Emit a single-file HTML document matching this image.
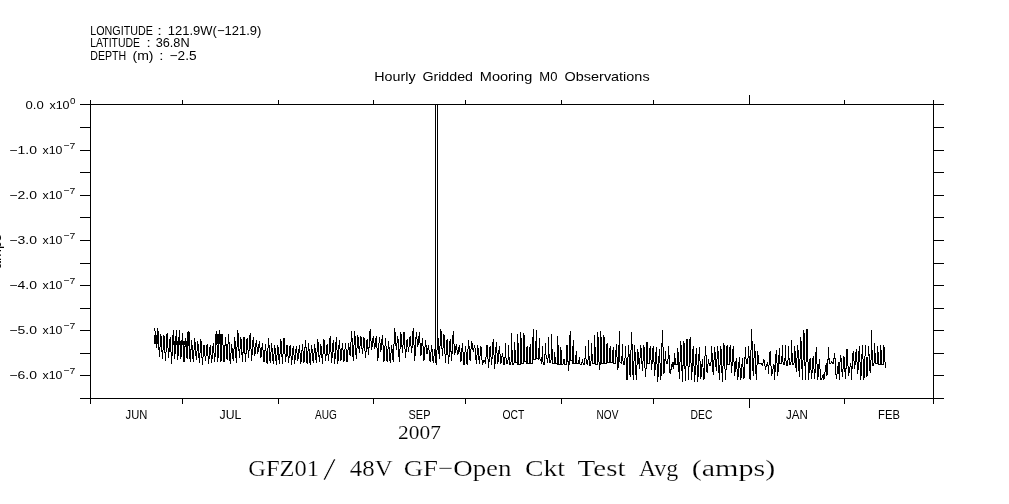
<!DOCTYPE html>
<html lang="en">
<head>
<meta charset="utf-8">
<title>GFZ01/ 48V GF-Open Ckt Test Avg (amps)</title>
<style>
html,body{margin:0;padding:0;background:#fff;}
body{width:1009px;height:504px;overflow:hidden;}
svg{display:block;}
.s{font-family:"Liberation Sans",sans-serif;fill:#000;}
.tx{filter:grayscale(1);}
.r{font-family:"Liberation Serif",serif;fill:#000;stroke:#fff;stroke-width:0.2px;}
</style>
</head>
<body>
<svg width="1009" height="504" viewBox="0 0 1009 504">
<rect width="1009" height="504" fill="#fff"/>
<g shape-rendering="crispEdges" fill="#000">
<path d="M90 104h844v1h-844zM90 398h844v1h-844zM90 104h1v295h-1zM933 104h1v295h-1zM80 104h10v1h-10zM933 104h11v1h-11zM80 127h10v1h-10zM933 127h11v1h-11zM80 150h10v1h-10zM933 150h11v1h-11zM80 172h10v1h-10zM933 172h11v1h-11zM80 195h10v1h-10zM933 195h11v1h-11zM80 217h10v1h-10zM933 217h11v1h-11zM80 240h10v1h-10zM933 240h11v1h-11zM80 263h10v1h-10zM933 263h11v1h-11zM80 285h10v1h-10zM933 285h11v1h-11zM80 308h10v1h-10zM933 308h11v1h-11zM80 330h10v1h-10zM933 330h11v1h-11zM80 353h10v1h-10zM933 353h11v1h-11zM80 375h10v1h-10zM933 375h11v1h-11zM80 398h10v1h-10zM933 398h11v1h-11zM90 398h1v6h-1zM90 100h1v5h-1zM182 398h1v6h-1zM182 100h1v5h-1zM278 398h1v6h-1zM278 100h1v5h-1zM373 398h1v6h-1zM373 100h1v5h-1zM465 398h1v6h-1zM465 100h1v5h-1zM561 398h1v6h-1zM561 100h1v5h-1zM653 398h1v6h-1zM653 100h1v5h-1zM749 398h1v10h-1zM749 95h1v10h-1zM844 398h1v6h-1zM844 100h1v5h-1zM933 398h1v6h-1zM933 100h1v5h-1z"/>
<path d="M154 335h4v9h-4zM173 341h17v4h-17zM187 332h3v14h-3zM215 334h7v10h-7zM435 104h1v259h-1zM437 104h1v246h-1z"/>
<path d="M154.76 328.0 L156.30 348.0 L157.84 328.0 L159.38 356.9 L160.92 334.0 L162.45 358.7 L163.99 335.5 L165.53 361.1 L167.07 333.1 L168.61 357.5 L170.15 337.0 L171.68 363.7 L173.22 330.1 L174.76 359.3 L176.30 330.1 L177.84 359.7 L179.38 330.1 L180.91 358.7 L182.45 333.1 L183.99 362.3 L185.53 338.5 L187.07 358.7 L188.60 331.1 L190.14 361.7 L191.68 340.3 L193.22 362.3 L194.76 337.9 L196.30 359.9 L197.83 340.9 L199.37 362.9 L200.91 339.1 L202.45 364.7 L203.99 345.0 L205.53 361.1 L207.06 344.2 L208.60 363.7 L210.14 345.0 L211.68 362.9 L213.22 343.2 L214.76 362.3 L216.29 331.1 L217.83 361.7 L219.37 330.1 L220.91 362.3 L222.45 334.3 L223.99 362.3 L225.52 337.0 L227.06 359.9 L228.60 334.0 L230.14 363.5 L231.68 344.4 L233.22 361.1 L234.75 337.0 L236.29 362.9 L237.83 330.1 L239.37 357.5 L240.91 337.0 L242.45 361.7 L243.98 337.0 L245.52 361.7 L247.06 337.9 L248.60 357.5 L250.14 333.1 L251.68 360.5 L253.21 337.0 L254.75 356.3 L256.29 340.3 L257.83 354.0 L259.37 340.9 L260.91 358.1 L262.44 343.2 L263.98 362.3 L265.52 344.4 L267.06 363.5 L268.60 337.9 L270.14 362.9 L271.67 343.2 L273.21 363.5 L274.75 345.0 L276.29 364.7 L277.83 345.0 L279.37 364.1 L280.90 339.1 L282.44 363.5 L283.98 337.9 L285.52 362.3 L287.06 345.0 L288.60 362.9 L290.13 345.0 L291.67 364.7 L293.21 345.6 L294.75 363.5 L296.29 345.6 L297.83 361.1 L299.36 345.0 L300.90 363.5 L302.44 344.4 L303.98 362.9 L305.52 340.0 L307.06 363.5 L308.59 343.2 L310.13 364.7 L311.67 345.0 L313.21 362.9 L314.75 344.4 L316.29 362.9 L317.82 339.1 L319.36 362.3 L320.90 344.4 L322.44 363.5 L323.98 339.1 L325.52 361.1 L327.05 344.4 L328.59 361.1 L330.13 336.1 L331.67 362.9 L333.21 340.3 L334.75 363.5 L336.28 337.3 L337.82 363.5 L339.36 340.3 L340.90 361.1 L342.44 342.6 L343.98 361.7 L345.51 343.2 L347.05 362.3 L348.59 343.2 L350.13 356.3 L351.67 331.1 L353.21 360.9 L354.74 331.1 L356.28 359.3 L357.82 334.9 L359.36 353.4 L360.90 336.1 L362.44 354.0 L363.97 337.3 L365.51 357.5 L367.05 339.1 L368.59 354.5 L370.13 329.0 L371.67 350.4 L373.20 336.1 L374.74 349.2 L376.28 336.1 L377.82 360.9 L379.36 337.3 L380.90 351.6 L382.43 334.9 L383.97 361.7 L385.51 337.9 L387.05 361.7 L388.59 340.9 L390.13 362.9 L391.66 345.0 L393.20 362.3 L394.74 328.4 L396.28 349.8 L397.82 336.1 L399.35 362.3 L400.89 331.9 L402.43 352.8 L403.97 331.9 L405.51 357.5 L407.05 339.1 L408.58 351.6 L410.12 336.1 L411.66 353.4 L413.20 328.4 L414.74 360.5 L416.28 332.5 L417.81 346.8 L419.35 332.5 L420.89 356.3 L422.43 337.9 L423.97 360.5 L425.51 340.3 L427.04 354.0 L428.58 345.0 L430.12 361.7 L431.66 345.0 L433.20 362.9 L434.74 349.2 L436.27 364.7 L437.81 334.9 L439.35 358.7 L440.89 329.0 L442.43 356.3 L443.97 334.3 L445.50 362.9 L447.04 339.1 L448.58 363.5 L450.12 339.1 L451.66 360.5 L453.20 331.1 L454.73 355.1 L456.27 344.4 L457.81 355.1 L459.35 345.0 L460.89 362.3 L462.43 343.2 L463.96 365.3 L465.50 345.6 L467.04 364.7 L468.58 340.3 L470.12 361.1 L471.66 340.9 L473.19 351.6 L474.73 345.0 L476.27 363.5 L477.81 345.0 L479.35 364.1 L480.89 345.6 L482.42 364.7 L483.96 359.9 L485.50 363.5 L487.04 345.0 L488.58 367.6 L490.12 345.6 L491.65 364.7 L493.19 339.1 L494.73 369.4 L496.27 342.0 L497.81 364.1 L499.35 346.2 L500.88 364.1 L502.42 352.8 L503.96 364.7 L504.80 363.2 L505.50 343.2 L506.20 363.2 L507.83 363.2 L507.88 364.0 L508.58 345.0 L509.28 364.0 L510.90 364.0 L510.95 364.8 L511.65 333.1 L512.35 364.8 L513.98 364.8 L514.03 362.8 L514.73 342.0 L515.43 362.8 L517.06 362.8 L517.11 364.7 L517.81 334.3 L518.51 364.7 L520.13 364.7 L520.18 363.9 L520.88 331.9 L521.58 363.9 L523.21 363.9 L523.26 361.0 L523.96 333.1 L524.66 361.0 L526.29 361.0 L526.34 363.5 L527.04 346.2 L527.74 363.5 L529.36 363.5 L529.41 363.3 L530.11 343.8 L530.81 363.3 L532.44 363.3 L532.49 359.2 L533.19 329.0 L533.89 359.2 L535.52 359.2 L535.57 358.6 L536.27 330.1 L536.97 358.6 L538.59 358.6 L538.64 360.4 L539.34 337.9 L540.04 360.4 L541.67 360.4 L541.72 364.0 L542.42 346.2 L543.12 364.0 L544.75 364.0 L544.80 358.6 L545.50 343.2 L546.20 358.6 L547.82 358.6 L547.87 362.9 L548.57 337.0 L549.27 362.9 L550.90 362.9 L550.95 363.0 L551.65 334.0 L552.35 363.0 L553.98 363.0 L554.03 363.7 L554.73 352.2 L555.43 363.7 L557.05 363.7 L557.10 364.8 L557.80 336.1 L558.50 364.8 L560.13 364.8 L560.18 364.2 L560.88 346.8 L561.58 364.2 L563.21 364.2 L563.26 364.4 L563.96 358.7 L564.66 364.4 L566.28 364.4 L567.03 345.0 L568.57 370.6 L569.41 360.4 L570.11 331.1 L570.81 360.4 L572.44 360.4 L572.49 363.5 L573.19 340.3 L573.89 363.5 L575.51 363.5 L575.56 363.7 L576.26 351.0 L576.96 363.7 L578.59 363.7 L578.64 364.0 L579.34 356.9 L580.04 364.0 L581.67 364.0 L581.72 364.0 L582.42 359.3 L583.12 364.0 L584.74 364.0 L584.79 363.2 L585.49 346.2 L586.19 363.2 L587.82 363.2 L587.87 365.1 L588.57 340.3 L589.27 365.1 L590.90 365.1 L590.95 363.0 L591.65 343.2 L592.35 363.0 L593.97 363.0 L594.02 364.2 L594.72 334.9 L595.42 364.2 L597.05 364.2 L597.80 331.9 L599.34 369.7 L600.18 363.3 L600.88 331.1 L601.58 363.3 L603.20 363.3 L603.25 363.0 L603.95 334.9 L604.65 363.0 L606.28 363.0 L606.33 362.8 L607.03 343.2 L607.73 362.8 L609.35 362.8 L609.40 362.8 L610.10 346.2 L610.80 362.8 L612.43 362.8 L612.48 363.0 L613.18 346.8 L613.88 363.0 L615.51 363.0 L616.26 344.2 L617.80 369.7 L618.63 362.2 L619.33 331.1 L620.03 362.2 L621.66 362.2 L621.71 364.3 L622.41 344.4 L623.11 364.3 L624.74 364.3 L625.49 346.2 L627.03 379.9 L628.56 345.0 L630.10 376.6 L631.64 332.2 L633.18 380.4 L634.72 345.3 L636.26 380.4 L637.79 348.8 L639.33 368.5 L640.87 345.3 L642.41 370.9 L643.95 345.3 L645.49 377.4 L646.32 363.8 L647.02 342.0 L647.72 363.8 L649.35 363.8 L650.10 345.9 L651.64 369.7 L653.18 345.9 L654.72 375.6 L656.25 347.0 L657.79 381.6 L659.33 349.2 L660.87 380.4 L662.41 330.1 L663.95 373.8 L664.78 363.6 L665.48 351.2 L666.18 363.6 L667.81 363.6 L668.56 346.1 L670.10 374.4 L672.44 362.0 L673.14 368.5 L673.84 362.0 L674.01 364.6 L674.71 353.0 L675.41 364.6 L677.04 364.6 L677.79 348.2 L679.33 378.6 L680.87 341.1 L682.41 381.6 L683.94 341.1 L685.48 381.0 L687.02 339.0 L688.56 380.4 L690.10 336.9 L691.64 380.4 L693.17 345.9 L694.71 381.6 L696.25 348.2 L697.79 381.6 L699.33 347.0 L700.87 379.2 L702.40 359.0 L703.94 380.4 L705.48 346.1 L707.02 372.6 L707.86 365.1 L708.56 359.5 L709.26 365.1 L710.88 365.1 L711.63 346.1 L713.17 375.0 L714.71 347.0 L716.25 370.9 L717.79 346.1 L719.33 379.8 L720.86 346.1 L722.40 381.6 L723.94 343.1 L725.48 380.4 L726.32 364.8 L727.02 345.3 L727.72 364.8 L729.34 364.8 L730.09 345.3 L731.63 373.2 L733.17 346.1 L734.71 375.6 L736.25 358.4 L737.79 380.4 L739.32 357.2 L740.86 380.4 L742.40 358.4 L743.94 379.2 L744.78 363.0 L745.48 347.0 L746.18 363.0 L747.80 363.0 L748.55 346.1 L750.09 380.4 L751.63 329.2 L753.17 375.6 L754.71 344.1 L756.25 379.8 L757.08 363.9 L757.78 351.2 L758.48 363.9 L760.11 363.9 L760.86 363.0 L762.40 365.3 L763.94 359.5 L765.48 368.5 L767.81 362.2 L768.51 373.8 L769.21 362.2 L770.09 351.2 L771.63 375.6 L773.97 364.3 L774.67 380.4 L775.37 364.3 L776.24 350.0 L777.78 375.6 L778.62 363.6 L779.32 348.2 L780.02 363.6 L781.65 363.6 L781.70 364.4 L782.40 345.3 L783.10 364.4 L784.72 364.4 L784.77 365.2 L785.47 345.3 L786.17 365.2 L787.80 365.2 L787.85 364.2 L788.55 346.1 L789.25 364.2 L790.88 364.2 L790.93 364.9 L791.63 339.9 L792.33 364.9 L793.95 364.9 L794.70 346.1 L796.24 371.5 L797.78 345.3 L799.32 377.4 L800.86 336.9 L802.40 379.8 L803.93 330.1 L805.47 380.4 L807.01 329.2 L808.55 379.8 L810.09 357.8 L811.63 378.6 L813.16 356.0 L814.70 379.2 L816.24 347.0 L817.78 380.4 L819.32 359.5 L820.85 380.4 L823.19 375.0 L823.89 380.4 L824.59 375.0 L826.27 363.3 L826.97 375.6 L827.67 363.3 L827.85 363.3 L828.55 347.0 L829.25 363.3 L830.87 363.3 L831.62 361.7 L833.16 363.5 L834.70 353.0 L836.24 379.2 L838.58 362.4 L839.28 380.4 L839.98 362.4 L840.85 355.4 L842.39 377.4 L843.93 356.0 L845.47 379.2 L847.01 349.2 L848.54 375.6 L850.88 362.6 L851.58 380.4 L852.28 362.6 L853.16 351.2 L854.70 368.5 L856.24 349.2 L857.77 374.4 L859.31 345.9 L860.85 379.8 L862.39 345.3 L863.93 379.8 L865.47 345.3 L867.00 376.8 L868.54 346.1 L870.08 372.6 L870.92 365.1 L871.62 330.1 L872.32 365.1 L873.95 365.1 L874.00 363.5 L874.70 343.1 L875.40 363.5 L877.02 363.5 L877.07 364.4 L877.77 345.9 L878.47 364.4 L880.10 364.4 L880.15 364.0 L880.85 345.3 L881.55 364.0 L883.18 364.0 L883.93 345.3 L885.46 368.5" fill="none" stroke="#000" stroke-width="1" stroke-linejoin="miter"/>
</g>
<g class="tx">
<text x="90.3" y="34.8" class="s" font-size="12.5" textLength="62.6" lengthAdjust="spacingAndGlyphs">LONGITUDE</text>
<text x="157.3" y="34.8" class="s" font-size="12.5" textLength="4.6" lengthAdjust="spacingAndGlyphs">:</text>
<text x="167.8" y="34.8" class="s" font-size="12.5" textLength="93.6" lengthAdjust="spacingAndGlyphs">121.9W(−121.9)</text>
<text x="90.3" y="46.7" class="s" font-size="12.5" textLength="49.8" lengthAdjust="spacingAndGlyphs">LATITUDE</text>
<text x="146.4" y="46.7" class="s" font-size="12.5" textLength="4.2" lengthAdjust="spacingAndGlyphs">:</text>
<text x="155.7" y="46.7" class="s" font-size="12.5" textLength="33.9" lengthAdjust="spacingAndGlyphs">36.8N</text>
<text x="90.3" y="59.6" class="s" font-size="12.5" textLength="35.9" lengthAdjust="spacingAndGlyphs">DEPTH</text>
<text x="132.5" y="59.6" class="s" font-size="12.5" textLength="21.0" lengthAdjust="spacingAndGlyphs">(m)</text>
<text x="159.3" y="59.6" class="s" font-size="12.5" textLength="4.2" lengthAdjust="spacingAndGlyphs">:</text>
<text x="169.6" y="59.6" class="s" font-size="12.5" textLength="27.0" lengthAdjust="spacingAndGlyphs">−2.5</text>
<text x="374.3" y="80.8" class="s" font-size="13" textLength="41.3" lengthAdjust="spacingAndGlyphs">Hourly</text>
<text x="422.4" y="80.8" class="s" font-size="13" textLength="50.6" lengthAdjust="spacingAndGlyphs">Gridded</text>
<text x="479.8" y="80.8" class="s" font-size="13" textLength="52.4" lengthAdjust="spacingAndGlyphs">Mooring</text>
<text x="539.3" y="80.8" class="s" font-size="13" textLength="18.1" lengthAdjust="spacingAndGlyphs">M0</text>
<text x="564.6" y="80.8" class="s" font-size="13" textLength="85.0" lengthAdjust="spacingAndGlyphs">Observations</text>
<text x="125.6" y="418.8" class="s" font-size="12" textLength="21.8" lengthAdjust="spacingAndGlyphs">JUN</text>
<text x="219.6" y="418.8" class="s" font-size="12" textLength="21.8" lengthAdjust="spacingAndGlyphs">JUL</text>
<text x="315.1" y="418.8" class="s" font-size="12" textLength="21.8" lengthAdjust="spacingAndGlyphs">AUG</text>
<text x="408.6" y="418.8" class="s" font-size="12" textLength="21.8" lengthAdjust="spacingAndGlyphs">SEP</text>
<text x="502.6" y="418.8" class="s" font-size="12" textLength="21.8" lengthAdjust="spacingAndGlyphs">OCT</text>
<text x="596.6" y="418.8" class="s" font-size="12" textLength="21.8" lengthAdjust="spacingAndGlyphs">NOV</text>
<text x="690.6" y="418.8" class="s" font-size="12" textLength="21.8" lengthAdjust="spacingAndGlyphs">DEC</text>
<text x="786.1" y="418.8" class="s" font-size="12" textLength="21.8" lengthAdjust="spacingAndGlyphs">JAN</text>
<text x="878.1" y="418.8" class="s" font-size="12" textLength="21.8" lengthAdjust="spacingAndGlyphs">FEB</text>
<text x="25.5" y="108.9" class="s" font-size="11.2" textLength="18.2" lengthAdjust="spacingAndGlyphs">0.0</text>
<text x="49.4" y="108.9" class="s" font-size="11.2" textLength="20.2" lengthAdjust="spacingAndGlyphs">x10</text>
<text x="69.9" y="103.9" class="s" font-size="9.5" textLength="5.5" lengthAdjust="spacingAndGlyphs">0</text>
<text x="9.4" y="154.1" class="s" font-size="11.2" textLength="27.6" lengthAdjust="spacingAndGlyphs">−1.0</text>
<text x="42.5" y="154.1" class="s" font-size="11.2" textLength="19.9" lengthAdjust="spacingAndGlyphs">x10</text>
<text x="63.5" y="149.1" class="s" font-size="9.5" textLength="11.9" lengthAdjust="spacingAndGlyphs">−7</text>
<text x="9.4" y="199.1" class="s" font-size="11.2" textLength="27.6" lengthAdjust="spacingAndGlyphs">−2.0</text>
<text x="42.5" y="199.1" class="s" font-size="11.2" textLength="19.9" lengthAdjust="spacingAndGlyphs">x10</text>
<text x="63.5" y="194.1" class="s" font-size="9.5" textLength="11.9" lengthAdjust="spacingAndGlyphs">−7</text>
<text x="9.4" y="244.1" class="s" font-size="11.2" textLength="27.6" lengthAdjust="spacingAndGlyphs">−3.0</text>
<text x="42.5" y="244.1" class="s" font-size="11.2" textLength="19.9" lengthAdjust="spacingAndGlyphs">x10</text>
<text x="63.5" y="239.1" class="s" font-size="9.5" textLength="11.9" lengthAdjust="spacingAndGlyphs">−7</text>
<text x="9.4" y="289.1" class="s" font-size="11.2" textLength="27.6" lengthAdjust="spacingAndGlyphs">−4.0</text>
<text x="42.5" y="289.1" class="s" font-size="11.2" textLength="19.9" lengthAdjust="spacingAndGlyphs">x10</text>
<text x="63.5" y="284.1" class="s" font-size="9.5" textLength="11.9" lengthAdjust="spacingAndGlyphs">−7</text>
<text x="9.4" y="334.1" class="s" font-size="11.2" textLength="27.6" lengthAdjust="spacingAndGlyphs">−5.0</text>
<text x="42.5" y="334.1" class="s" font-size="11.2" textLength="19.9" lengthAdjust="spacingAndGlyphs">x10</text>
<text x="63.5" y="329.1" class="s" font-size="9.5" textLength="11.9" lengthAdjust="spacingAndGlyphs">−7</text>
<text x="9.4" y="379.1" class="s" font-size="11.2" textLength="27.6" lengthAdjust="spacingAndGlyphs">−6.0</text>
<text x="42.5" y="379.1" class="s" font-size="11.2" textLength="19.9" lengthAdjust="spacingAndGlyphs">x10</text>
<text x="63.5" y="374.1" class="s" font-size="9.5" textLength="11.9" lengthAdjust="spacingAndGlyphs">−7</text>
<text x="398.1" y="438.9" class="r" style="stroke-width:0.1px" font-size="18" textLength="42.8" lengthAdjust="spacingAndGlyphs">2007</text>
<text x="248.3" y="475.5" class="r" font-size="23" textLength="70.8" lengthAdjust="spacingAndGlyphs">GFZ01</text>
<text x="349.8" y="475.5" class="r" font-size="23" textLength="42.8" lengthAdjust="spacingAndGlyphs">48V</text>
<text x="403.7" y="475.5" class="r" font-size="23" textLength="107.8" lengthAdjust="spacingAndGlyphs">GF−Open</text>
<text x="524.9" y="475.5" class="r" font-size="23" textLength="40.1" lengthAdjust="spacingAndGlyphs">Ckt</text>
<text x="577.6" y="475.5" class="r" font-size="23" textLength="47.9" lengthAdjust="spacingAndGlyphs">Test</text>
<text x="638.7" y="475.5" class="r" font-size="23" textLength="39.5" lengthAdjust="spacingAndGlyphs">Avg</text>
<text x="691.7" y="475.5" class="r" font-size="23" textLength="83.6" lengthAdjust="spacingAndGlyphs">(amps)</text>
<text x="323.0" y="479.6" class="r" style="stroke-width:0.55px" font-size="32" textLength="12.9" lengthAdjust="spacingAndGlyphs">/</text>
<text transform="translate(1.4,251.5) rotate(-90)" text-anchor="middle" class="s" font-size="14" textLength="35" lengthAdjust="spacingAndGlyphs">amps</text>
</g>
</svg>
</body>
</html>
